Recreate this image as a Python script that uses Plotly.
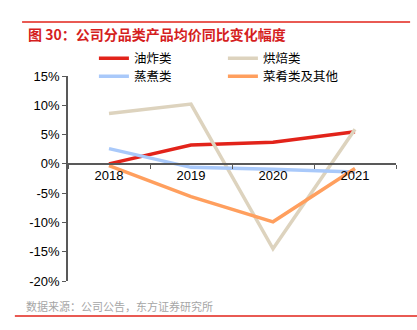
import plotly.graph_objects as go

years = ["2018", "2019", "2020", "2021"]
fried = [0.0, 3.2, 3.7, 5.5]
baked = [8.6, 10.2, -14.5, 5.9]
steamed = [2.6, -0.6, -0.9, -1.4]
dishes = [-0.3, -5.6, -9.9, -0.8]

names = ["油炸类", "烘焙类", "蒸煮类", "菜肴类及其他"]
colors = ["#E2231A", "#DDD3BE", "#A9C9FA", "#FF9F5E"]
series = [fried, baked, steamed, dishes]
legend_ids = ["legend", "legend", "legend2", "legend2"]

yticks = [15, 10, 5, 0, -5, -10, -15, -20]
ytext = [f"{v}%" for v in yticks]

font_main = "Liberation Sans, Arial, Noto Sans CJK SC"

fig = go.Figure()
for n, c, s, lg in zip(names, colors, series, legend_ids):
    fig.add_trace(go.Scatter(x=years, y=s, name=n, mode="lines", legend=lg,
                             line=dict(color=c, width=3.5)))

leg_common = dict(orientation="h", xanchor="left", yanchor="top",
                  entrywidth=84, entrywidthmode="pixels",
                  font=dict(size=12.5, family="Noto Sans CJK SC"),
                  itemwidth=30, bgcolor="rgba(0,0,0,0)")

fig.update_layout(
    width=417, height=330,
    margin=dict(l=68, r=21, t=76, b=49),
    paper_bgcolor="white", plot_bgcolor="white",
    font=dict(family=font_main, size=13, color="#000000"),
    showlegend=True,
    legend=dict(x=0.079, y=1.158, **leg_common),
    legend2=dict(x=0.079, y=1.070, **leg_common),
    xaxis=dict(type="category", range=[-0.5, 3.5], tickson="boundaries",
               ticks="outside", ticklen=4, tickcolor="#595959",
               showline=True, linecolor="#595959", linewidth=1.5,
               showgrid=False, anchor="free", position=20/35,
               tickfont=dict(size=13, color="#000")),
    yaxis=dict(range=[-20, 15], tickvals=yticks, ticktext=ytext,
               ticks="outside", ticklen=4, tickcolor="#595959",
               showline=True, linecolor="#595959", linewidth=1.5,
               showgrid=False, zeroline=False,
               tickfont=dict(size=13, color="#000")),
)

fig.add_annotation(text="<b>图 30：公司分品类产品均价同比变化幅度</b>",
                   xref="paper", yref="paper", x=-0.128, y=1.205,
                   xanchor="left", yanchor="middle", showarrow=False,
                   font=dict(size=14, color="#D51E1E", family="Noto Sans CJK SC"))
fig.add_annotation(text="数据来源：公司公告，东方证券研究所",
                   xref="paper", yref="paper", x=-0.134, y=-0.122,
                   xanchor="left", yanchor="middle", showarrow=False,
                   font=dict(size=11, color="#A6A6A6", family="Noto Sans CJK SC"))

fig.add_shape(type="line", xref="paper", yref="paper", x0=-0.14, x1=1.043,
              y0=1.263, y1=1.263, line=dict(color="#E2231A", width=1.5))
fig.add_shape(type="line", xref="paper", yref="paper", x0=-0.162, x1=1.064,
              y0=-0.171, y1=-0.171, line=dict(color="#E2231A", width=1.5))

fig.write_html("out.html")
